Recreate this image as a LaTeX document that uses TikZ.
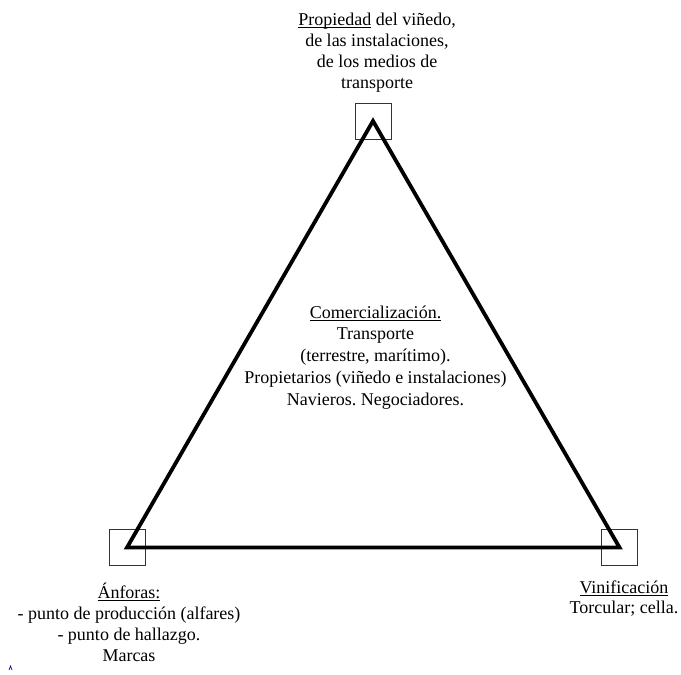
\documentclass[tikz,border=0pt]{standalone}
\usepackage{fontspec}
\setmainfont{Liberation Serif}
\frenchspacing
\newcommand{\ulw}[1]{\setbox0\hbox{#1}\rlap{\rule[-2.4pt]{\wd0}{0.9pt}}\box0\relax}
\begin{document}
\begin{tikzpicture}[x=1pt,y=-1pt,
  lbl/.style={align=center,inner sep=0pt,anchor=base},
  corner/.style={draw=black!80,line width=0.9pt,minimum size=36pt,inner sep=0pt},
  side/.style={line width=3.8pt,line join=miter}]
\useasboundingbox[fill=white] (0,0) rectangle (681,675);
\coordinate (top) at (373,121);
\coordinate (bl) at (127,547.5);
\coordinate (br) at (619.5,547.5);
\node[corner] (btop) at (top) {};
\node[corner] (bbl) at (bl) {};
\node[corner] (bbr) at (br) {};
\draw[side] (top) -- (br) -- (bl) -- cycle;
\node[lbl,font=\fontsize{18}{20.7}\selectfont] (ltop) at (377,88) {\ulw{Propiedad} del viñedo,\\de las instalaciones,\\de los medios de\\transporte};
\node[lbl,font=\fontsize{18}{21.7}\selectfont] (lmid) at (375.5,405) {\ulw{Comercialización.}\\Transporte\\(terrestre, marítimo).\\Propietarios (viñedo e instalaciones)\\Navieros. Negociadores.};
\node[lbl,font=\fontsize{18}{20.7}\selectfont] (lbl) at (129,661) {\ulw{Ánforas:}\\- punto de producción (alfares)\\- punto de hallazgo.\\Marcas};
\node[lbl,font=\fontsize{18}{20}\selectfont] (lbr) at (624,613) {\ulw{Vinificación}\\Torcular; cella.};
\draw[blue!70!black,line width=0.7pt] (9,670) -- (10.5,666) -- (12,670);
\end{tikzpicture}
\end{document}
